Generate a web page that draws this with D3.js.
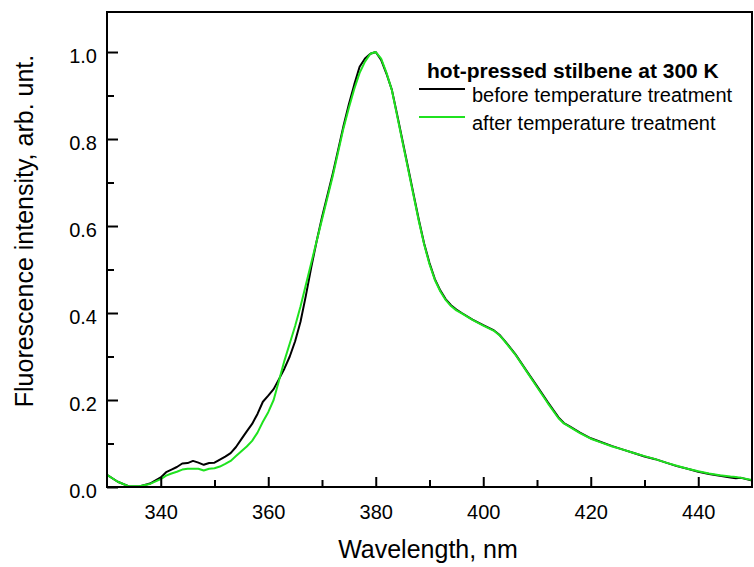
<!DOCTYPE html>
<html>
<head>
<meta charset="utf-8">
<script src="https://cdn.jsdelivr.net/npm/d3@7"></script>
<style>
  body { margin: 0; background: #fff; }
  svg { display: block; font-family: "Liberation Sans", Arial, sans-serif; }
</style>
</head>
<body>
<svg id="chart" width="754" height="567"></svg>
<script>
// wavelength (nm)
const wavelength = [330, 332, 334, 336, 338, 340, 341, 342, 343, 344, 345, 346, 347, 348, 349, 350,
  351, 352, 353, 354, 355, 356, 357, 358, 359, 360, 361, 362, 363, 364, 365, 366, 367, 368, 369, 370,
  371, 372, 373, 374, 375, 376, 377, 378, 379, 380, 381, 382, 383, 384, 385, 386, 387, 388, 389, 390,
  391, 392, 393, 394, 395, 396, 398, 400, 402, 403, 404, 406, 408, 410, 412, 414, 415, 416, 418, 420,
  422, 424, 426, 428, 430, 432, 434, 436, 438, 440, 442, 444, 446, 447, 448, 450];

// before temperature treatment (black)
const avant = [0.028, 0.012, 0.002, 0.001, 0.008, 0.022, 0.034, 0.040, 0.046, 0.054, 0.055, 0.060, 0.056, 0.051, 0.055, 0.056,
  0.063, 0.070, 0.078, 0.092, 0.110, 0.128, 0.145, 0.168, 0.196, 0.210, 0.225, 0.248, 0.272, 0.300, 0.335, 0.380, 0.440, 0.505, 0.565, 0.620,
  0.670, 0.720, 0.775, 0.830, 0.880, 0.925, 0.966, 0.985, 0.996, 1.000, 0.982, 0.950, 0.913, 0.855, 0.795, 0.735, 0.675, 0.615, 0.560, 0.515,
  0.478, 0.452, 0.432, 0.418, 0.408, 0.400, 0.385, 0.372, 0.360, 0.350, 0.336, 0.305, 0.268, 0.232, 0.195, 0.160, 0.147, 0.140, 0.125, 0.112,
  0.103, 0.094, 0.086, 0.078, 0.070, 0.064, 0.056, 0.048, 0.042, 0.035, 0.030, 0.026, 0.022, 0.020, 0.021, 0.015];

// after temperature treatment (green)
const apres = [0.028, 0.012, 0.002, 0.002, 0.007, 0.018, 0.026, 0.031, 0.035, 0.040, 0.042, 0.042, 0.042, 0.038, 0.042, 0.043,
  0.047, 0.053, 0.060, 0.071, 0.082, 0.093, 0.106, 0.125, 0.150, 0.172, 0.200, 0.245, 0.290, 0.330, 0.370, 0.415, 0.465, 0.515, 0.565, 0.615,
  0.665, 0.715, 0.770, 0.825, 0.872, 0.915, 0.952, 0.978, 0.996, 1.000, 0.985, 0.952, 0.912, 0.852, 0.792, 0.732, 0.672, 0.612, 0.558, 0.512,
  0.476, 0.450, 0.430, 0.416, 0.406, 0.399, 0.384, 0.371, 0.359, 0.349, 0.335, 0.304, 0.267, 0.230, 0.193, 0.158, 0.146, 0.139, 0.124, 0.111,
  0.102, 0.093, 0.086, 0.078, 0.071, 0.064, 0.056, 0.049, 0.042, 0.036, 0.031, 0.027, 0.024, 0.023, 0.021, 0.016];

const xMajor = [340, 360, 380, 400, 420, 440];
const xMinor = [350, 370, 390, 410, 430];
const yMajor = [0, 0.2, 0.4, 0.6, 0.8, 1.0];
const yMinor = [0.1, 0.3, 0.5, 0.7, 0.9];

const legendTitre = "hot-pressed stilbene at 300 K";
const series = [
  {nom: "before temperature treatment", valeurs: avant, couleur: "#000000"},
  {nom: "after temperature treatment", valeurs: apres, couleur: "#1fe21f"}
];

var marge = {haut: 12, droite: 2, bas: 80, gauche: 107};
var largeur = 754, hauteur = 567;

const svg = d3.select("#chart");

var xScale = d3.scaleLinear().domain([330, 450]).range([marge.gauche, largeur - marge.droite]);
var yScale = d3.scaleLinear().domain([0, 1.092]).range([hauteur - marge.bas, marge.haut]);

// courbes
const ligne = d3.line()
  .x((d, i) => xScale(wavelength[i]))
  .y(d => yScale(d));

const plot = svg.append("g");
plot.append("clipPath").attr("id", "clip")
  .append("rect")
  .attr("x", marge.gauche).attr("y", marge.haut)
  .attr("width", largeur - marge.droite - marge.gauche)
  .attr("height", hauteur - marge.bas - marge.haut);

plot.selectAll("path.serie").data(series).enter().append("path")
  .classed("serie", true)
  .attr("clip-path", "url(#clip)")
  .attr("d", d => ligne(d.valeurs))
  .attr("fill", "none")
  .attr("stroke", d => d.couleur)
  .attr("stroke-width", 2)
  .attr("stroke-linejoin", "round");

// axes (ticks vers l'intérieur)
const axeX = svg.append("g")
  .attr("transform", `translate(0, ${hauteur - marge.bas})`)
  .call(d3.axisBottom(xScale).tickValues(xMajor).tickSize(-10).tickPadding(18).tickFormat(d3.format("d")));
svg.append("g")
  .attr("transform", `translate(0, ${hauteur - marge.bas})`)
  .call(d3.axisBottom(xScale).tickValues(xMinor).tickSize(-7).tickFormat(""));

const axeY = svg.append("g")
  .attr("transform", `translate(${marge.gauche}, 0)`)
  .call(d3.axisLeft(yScale).tickValues(yMajor).tickSize(-11).tickPadding(10).tickFormat(d3.format(".1f")));
svg.append("g")
  .attr("transform", `translate(${marge.gauche}, 0)`)
  .call(d3.axisLeft(yScale).tickValues(yMinor).tickSize(-7).tickFormat(""));

svg.selectAll(".domain").remove();
svg.selectAll(".tick line").attr("stroke", "#000").attr("stroke-width", 2);
svg.selectAll(".tick text").attr("font-size", 20).attr("fill", "#000")
  .attr("font-family", "'Liberation Sans', Arial, sans-serif");
axeY.selectAll(".tick text").attr("dy", "0.5em");

// cadre
svg.append("rect")
  .attr("x", marge.gauche).attr("y", marge.haut)
  .attr("width", largeur - marge.droite - marge.gauche)
  .attr("height", hauteur - marge.bas - marge.haut)
  .attr("fill", "none").attr("stroke", "#000").attr("stroke-width", 2);

// titres des axes
svg.append("text")
  .attr("x", 428).attr("y", 558)
  .attr("text-anchor", "middle").attr("font-size", 25)
  .text("Wavelength, nm");

svg.append("text")
  .attr("transform", "translate(33, 231) rotate(-90)")
  .attr("text-anchor", "middle").attr("font-size", 25)
  .text("Fluorescence intensity, arb. unt.");

// légende
const legende = svg.append("g");
legende.append("text")
  .attr("x", 427).attr("y", 78)
  .attr("font-size", 21).attr("font-weight", "bold")
  .text(legendTitre);

const item = legende.selectAll("g.item").data(series).enter().append("g")
  .classed("item", true)
  .attr("transform", (d, i) => `translate(0, ${i * 28})`);
item.append("line")
  .attr("x1", 419).attr("x2", 465).attr("y1", 89).attr("y2", 89)
  .attr("stroke", d => d.couleur).attr("stroke-width", 2);
item.append("text")
  .attr("x", 472).attr("y", 102)
  .attr("font-size", 20)
  .text(d => d.nom);
</script>
</body>
</html>
